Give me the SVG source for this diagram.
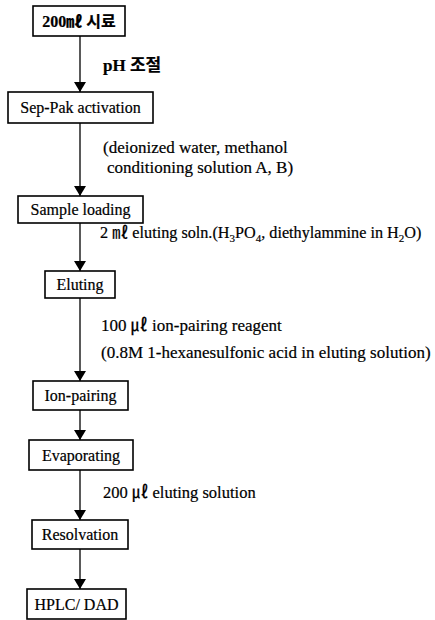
<svg xmlns="http://www.w3.org/2000/svg" width="435" height="620" viewBox="0 0 435 620">
<style>
.box rect{fill:#fff;stroke:#000;stroke-width:1.6}
.box text{font-family:"Liberation Serif","Times New Roman","Noto Sans CJK KR",serif;font-size:16px;fill:#000;text-anchor:middle;stroke:#000;stroke-width:0.2}
.lbl{font-family:"Liberation Serif","Times New Roman","Noto Sans CJK KR",serif;font-size:17px;fill:#000;stroke:#000;stroke-width:0.2}
.conn line{stroke:#000;stroke-width:1.3}
.sub{font-size:11px}
</style>
<defs>
<marker id="ah" markerWidth="10" markerHeight="12" refX="10" refY="6" orient="auto" markerUnits="userSpaceOnUse">
<path d="M0,0 L10,6 L0,12 Z" fill="#000"/>
</marker>
</defs>
<g id="connectors" class="conn">
<line x1="80" y1="36" x2="80" y2="92" marker-end="url(#ah)"/>
<line x1="80" y1="123" x2="80" y2="196" marker-end="url(#ah)"/>
<line x1="80" y1="223" x2="80" y2="271" marker-end="url(#ah)"/>
<line x1="80" y1="298" x2="80" y2="381" marker-end="url(#ah)"/>
<line x1="80" y1="410" x2="80" y2="440" marker-end="url(#ah)"/>
<line x1="80" y1="470" x2="80" y2="520" marker-end="url(#ah)"/>
<line x1="80" y1="549" x2="80" y2="589" marker-end="url(#ah)"/>
</g>
<g id="n1" class="box"><rect x="33" y="6" width="92" height="30"/><text x="79" y="27" font-weight="bold">200㎖ 시료</text></g>
<g id="n2" class="box"><rect x="8" y="92" width="145" height="31"/><text x="80.5" y="113">Sep-Pak activation</text></g>
<g id="n3" class="box"><rect x="18" y="196" width="125" height="27"/><text x="80.5" y="215">Sample loading</text></g>
<g id="n4" class="box"><rect x="45" y="271" width="70" height="27"/><text x="80" y="290">Eluting</text></g>
<g id="n5" class="box"><rect x="33" y="381" width="95" height="29"/><text x="80.5" y="401">Ion-pairing</text></g>
<g id="n6" class="box"><rect x="29" y="440" width="104" height="30"/><text x="81" y="461">Evaporating</text></g>
<g id="n7" class="box"><rect x="32" y="520" width="96" height="29"/><text x="80" y="540">Resolvation</text></g>
<g id="n8" class="box"><rect x="27" y="589" width="99" height="30"/><text x="76.5" y="610">HPLC/ DAD</text></g>
<g id="labels">
<text class="lbl" x="103" y="71" font-weight="bold">pH 조절</text>
<text class="lbl" x="103" y="153">(deionized water, methanol</text>
<text class="lbl" x="107" y="173">conditioning solution A, B)</text>
<text class="lbl" x="100" y="238" style="font-size:16.2px">2 ㎖  eluting soln.(H<tspan class="sub" dy="4">3</tspan><tspan dy="-4">PO</tspan><tspan class="sub" dy="4">4</tspan><tspan dy="-4">, diethylammine in H</tspan><tspan class="sub" dy="4">2</tspan><tspan dy="-4">O)</tspan></text>
<text class="lbl" x="101" y="331">100 ㎕  ion-pairing reagent</text>
<text class="lbl" x="101" y="358">(0.8M 1-hexanesulfonic acid in eluting solution)</text>
<text class="lbl" x="103" y="498" style="font-size:16.5px">200 ㎕ eluting solution</text>
</g>
</svg>
